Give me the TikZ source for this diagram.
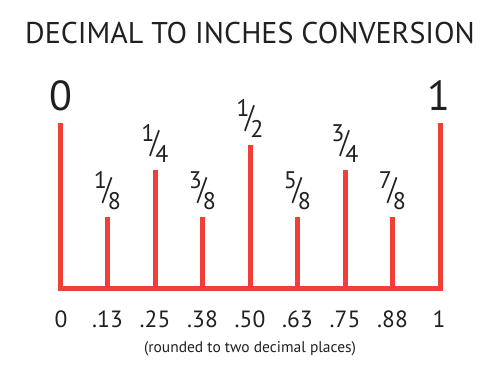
\documentclass[tikz,border=0pt]{standalone}
\usepackage{fontspec}
\usepackage{graphicx}
\setmainfont{PT Sans}
\definecolor{rulered}{RGB}{238,64,54}
\definecolor{ink}{RGB}{35,31,32}
\newcommand{\myfr}[2]{\raisebox{0.84em}{#1}\makebox[0pt]{\raisebox{0.4em}{\scalebox{1.05}[1.3]{/}}}\kern0.04em#2}
\tikzset{
  ruler/.style={draw=rulered, line width=5pt, line join=miter},
  frac/.style={font=\fontsize{24}{24}\selectfont, text=ink, inner sep=0pt, anchor=base},
  dec/.style={font=\fontsize{23.5}{23.5}\selectfont, text=ink, inner sep=0pt, anchor=base},
  big/.style={font=\fontsize{42}{42}\selectfont, text=ink, inner sep=0pt, anchor=base},
}
\begin{document}
\begin{tikzpicture}[x=1pt,y=-1pt]
\useasboundingbox (0,0) rectangle (500,364);
% title
\node[font=\fontsize{30}{30}\selectfont, text=ink, inner sep=0pt, anchor=base] (title) at (250,43) {DECIMAL TO INCHES CONVERSION};
% ruler
\coordinate (b0) at (60,288);
\coordinate (b8) at (440,288);
\coordinate (t0) at (60,123);
\coordinate (t8) at (440,123);
\draw[ruler] (t0) -- (b0) -- (b8) -- (t8);
\foreach \i/\x/\y in {1/107.5/217, 2/155/170, 3/202.5/217, 4/250/145, 5/297.5/217, 6/345/170, 7/392.5/217} {
  \coordinate (t\i) at (\x,\y);
  \coordinate (b\i) at (\x,288);
  \draw[ruler] (b\i) -- (t\i);
}
% big labels
\node[big] (zero) at (61,110) {0};
\node[big] (one) at (439,110) {1};
% fractions
\foreach \i/\x/\y/\n/\d in {1/107.5/217/1/8, 2/155/170/1/4, 3/202.5/217/3/8, 4/250/145/1/2, 5/297.5/217/5/8, 6/345/170/3/4, 7/392.5/217/7/8} {
  \node[frac] (f\i) at (\x,\y-8) {\myfr{\n}{\d}};
}
% decimals
\foreach \i/\x/\t in {0/61/0, 1/107.5/.13, 2/155/.25, 3/202.5/.38, 4/250/.50, 5/297.5/.63, 6/345/.75, 7/392.5/.88, 8/439/1} {
  \node[dec] (v\i) at (\x,327) {\t};
}
\node[font=\fontsize{15.5}{15.5}\selectfont, text=ink, inner sep=0pt, anchor=base] (note) at (250,352) {(rounded to two decimal places)};
\end{tikzpicture}
\end{document}
